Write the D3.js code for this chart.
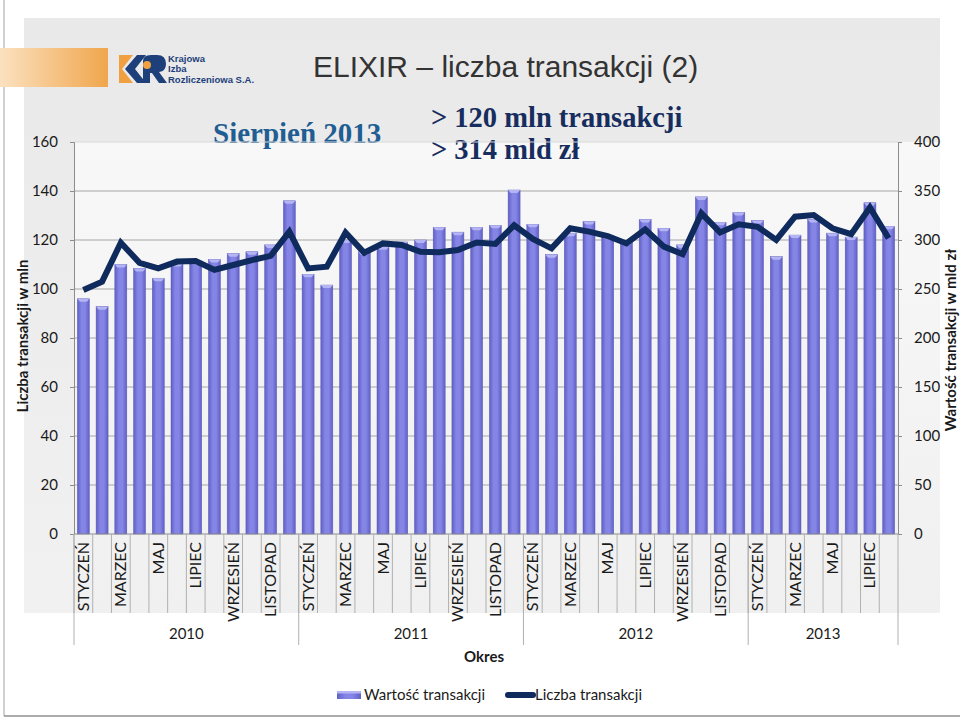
<!DOCTYPE html>
<html>
<head>
<meta charset="utf-8">
<script src="https://cdn.jsdelivr.net/npm/d3@7"></script>
<style>
  body{margin:0;background:#fff;}
  svg{display:block;}
</style>
</head>
<body>
<script>
  // data, Jan 2010 .. Aug 2013
  const years = ["2010","2011","2012","2013"]
  const monthNames = ["STYCZEŃ","LUTY","MARZEC","KWIECIEŃ","MAJ","CZERWIEC","LIPIEC","SIERPIEŃ","WRZESIEŃ","PAŹDZIERNIK","LISTOPAD","GRUDZIEŃ"]
  const monthsInYear = [12,12,12,8]
  // Wartość transakcji, mld zł (right axis)
  const wartosc = [240,232,275,271,261,276,278,280,286,288,295,340,
                   265,254,300,288,293,298,300,313,308,313,315,351,
                   316,285,307,319,304,298,321,312,295,344,318,328,
                   320,283,305,321,307,303,338,314]
  // Liczba transakcji, mln (left axis)
  const liczba = [99.6,103,118.9,110.7,108.4,111.2,111.4,107.8,109.8,111.8,113.5,123.4,
                  108.4,109.1,123,114.8,118.6,118,115.2,115,115.9,119,118.4,126,
                  120.4,116.6,124.8,123.4,121.6,118.6,124.3,117.3,114.2,130.9,123.1,126.4,
                  125.4,120,129.5,130.2,124.8,122.4,133.3,120.7]
  const leftTicks = [0,20,40,60,80,100,120,140,160]
  const rightTicks = [0,50,100,150,200,250,300,350,400]

  let rows=[]
  years.forEach((y,yi)=>{
    for(let m=0;m<monthsInYear[yi];m++){
      rows.push({id:`${y}_${m}`,year:y,month:m,label:m%2===0?monthNames[m]:""})
    }
  })
  rows.forEach((r,i)=>{r.value=wartosc[i];r.count=liczba[i]})

  const W=960,H=718
  const pLeft=74,pRight=898,pTop=142,pBottom=534
  const uiFont="Lato,'Open Sans','Noto Sans',sans-serif"
  const serif="'Liberation Serif','DejaVu Serif',serif"

  const svg=d3.select("body").append("svg").attr("width",W).attr("height",H).attr("font-family",uiFont)
  const defs=svg.append("defs")

  let g1=defs.append("linearGradient").attr("id","bg").attr("x1",0).attr("y1",0).attr("x2",0).attr("y2",1)
  g1.append("stop").attr("offset","0%").attr("stop-color","#e9e9e9")
  g1.append("stop").attr("offset","100%").attr("stop-color","#f1f1f1")
  let g2=defs.append("linearGradient").attr("id","plotbg").attr("x1",0).attr("y1",0).attr("x2",0).attr("y2",1)
  g2.append("stop").attr("offset","0%").attr("stop-color","#f8f8f8")
  g2.append("stop").attr("offset","100%").attr("stop-color","#f0f0f0")
  let g3=defs.append("linearGradient").attr("id","bar").attr("x1",0).attr("y1",0).attr("x2",1).attr("y2",0)
  g3.append("stop").attr("offset","0%").attr("stop-color","#5f5fc6")
  g3.append("stop").attr("offset","35%").attr("stop-color","#8585e6")
  g3.append("stop").attr("offset","65%").attr("stop-color","#8585e6")
  g3.append("stop").attr("offset","100%").attr("stop-color","#5f5fc6")
  let g4=defs.append("linearGradient").attr("id","band").attr("x1",0).attr("y1",0).attr("x2",1).attr("y2",0)
  g4.append("stop").attr("offset","0%").attr("stop-color","#fbe1c0")
  g4.append("stop").attr("offset","100%").attr("stop-color","#f0a64c")

  // slide background
  svg.append("rect").attr("x",24).attr("y",18).attr("width",916).attr("height",595).attr("fill","url(#bg)")
  svg.append("rect").attr("x",pLeft).attr("y",pTop).attr("width",940-pLeft).attr("height",613-pTop).attr("fill","url(#plotbg)")
  svg.append("line").attr("x1",4).attr("x2",4).attr("y1",0).attr("y2",716).attr("stroke","#a0a0a0")
  svg.append("line").attr("x1",4).attr("x2",W).attr("y1",716).attr("y2",716).attr("stroke","#909090").attr("stroke-width",1.5)

  // logo
  svg.append("rect").attr("x",0).attr("y",48).attr("width",108).attr("height",39).attr("fill","url(#band)")
  const logo=svg.append("g").attr("transform","translate(119,55)")
  logo.append("polygon").attr("points","0,0 14,0 3,14 14,28 0,28").attr("fill","#f0a040")
  logo.append("polygon").attr("points","6,14 18,0 27,0 16,14 27,28 18,28").attr("fill","#1d3f7a")
  logo.append("path").attr("d","M24,28 L24,6 Q24,0 32,0 L38,0 Q47,0 47,9 Q47,16 40,17 L48,28 L40,28 L33,18 L31,18 L31,28 Z").attr("fill","#1d3f7a")
  logo.append("circle").attr("cx",28).attr("cy",10).attr("r",4).attr("fill","#f0a040")
  const lt=svg.append("g").attr("fill","#1d3f7a").attr("font-family","'Liberation Sans',Arial,sans-serif").attr("font-weight","bold").attr("font-size",9.5)
  lt.append("text").attr("x",168).attr("y",62).text("Krajowa")
  lt.append("text").attr("x",168).attr("y",72).text("Izba")
  lt.append("text").attr("x",168).attr("y",83).text("Rozliczeniowa S.A.")

  svg.append("text").attr("x",313).attr("y",77).attr("font-family","'Liberation Sans',Arial,sans-serif")
    .attr("font-size",30).attr("fill","#333").text("ELIXIR – liczba transakcji (2)")
  svg.append("text").attr("x",213).attr("y",143).attr("font-family",serif)
    .attr("font-weight","bold").attr("font-size",29).attr("fill","#1f5d92").text("Sierpień 2013")
  const sub=svg.append("g").attr("font-family",serif).attr("font-weight","bold")
    .attr("font-size",28.5).attr("fill","#172d5e")
  sub.append("text").attr("x",431).attr("y",127).text("> 120 mln transakcji")
  sub.append("text").attr("x",431).attr("y",159).text("> 314 mld zł")

  // scales
  const x=d3.scaleBand().domain(rows.map(d=>d.id)).range([pLeft,pRight]).paddingInner(0.36).paddingOuter(0.18)
  const step=x.step()
  const yL=d3.scaleLinear().domain([0,160]).range([pBottom,pTop])
  const yR=d3.scaleLinear().domain([0,400]).range([pBottom,pTop])

  // gridlines
  svg.append("g").selectAll("line").data(leftTicks.slice(1)).join("line")
    .attr("x1",pLeft).attr("x2",pRight).attr("y1",d=>yL(d)).attr("y2",d=>yL(d))
    .attr("stroke",d=>d===160?"#d8d8d8":"#a6a6a6").attr("stroke-width",1)

  // bars
  const bars=svg.append("g").selectAll("g").data(rows,d=>d.id).join("g")
  bars.append("rect").attr("x",d=>x(d.id)).attr("width",x.bandwidth())
    .attr("y",d=>yR(d.value)).attr("height",d=>pBottom-yR(d.value)).attr("fill","url(#bar)")
    .attr("stroke","#5a5ab8").attr("stroke-width",0.5)
  bars.append("polygon").attr("points",d=>{
      let x0=x(d.id),w=x.bandwidth(),y0=yR(d.value)
      return `${x0},${y0} ${x0+w},${y0} ${x0+w-2.5},${y0+3} ${x0+2.5},${y0+3}`
    }).attr("fill","#b4b4f4")

  // line
  const line=d3.line().x(d=>x(d.id)+x.bandwidth()/2).y(d=>yL(d.count))
  svg.append("path").datum(rows).attr("d",line).attr("fill","none")
    .attr("stroke","#0f2a5c").attr("stroke-width",6).attr("stroke-linejoin","miter")

  // axes
  const axL=svg.append("g").attr("transform",`translate(${pLeft},0)`).call(d3.axisLeft(yL).tickValues(leftTicks).tickSize(4).tickPadding(12))
  const axR=svg.append("g").attr("transform",`translate(${pRight},0)`).call(d3.axisRight(yR).tickValues(rightTicks).tickSize(4).tickPadding(12))
  ;[axL,axR].forEach(a=>{
    a.select(".domain").attr("stroke","#8c8c8c")
    a.selectAll(".tick line").attr("stroke","#8c8c8c")
    a.selectAll("text").attr("font-size",15).attr("fill","#1a1a1a").attr("font-family",uiFont)
  })
  svg.append("line").attr("x1",pLeft).attr("x2",pRight).attr("y1",pBottom).attr("y2",pBottom).attr("stroke","#8c8c8c")

  // category axis: month separators, labels, year row
  const cat=svg.append("g")
  cat.selectAll("line.m").data(rows).join("line").attr("class","m")
    .attr("x1",d=>x(d.id)-step*0.18).attr("x2",d=>x(d.id)-step*0.18)
    .attr("y1",pBottom).attr("y2",613).attr("stroke","#b0b0b0")
  cat.selectAll("text.m").data(rows.filter(d=>d.label)).join("text").attr("class","m")
    .attr("transform",d=>`translate(${x(d.id)+x.bandwidth()/2+5.5},${pBottom+8}) rotate(-90)`)
    .attr("text-anchor","end").attr("font-size",16).attr("fill","#1a1a1a").text(d=>d.label)
  let start=0
  const yearPos=years.map((y,i)=>{let s=start;start+=monthsInYear[i];return {year:y,s:s,e:start}})
  const edge=i=>pLeft+i*step
  cat.selectAll("line.y").data([0,...yearPos.map(d=>d.e)]).join("line").attr("class","y")
    .attr("x1",d=>edge(d)).attr("x2",d=>edge(d)).attr("y1",pBottom).attr("y2",645).attr("stroke","#b0b0b0")
  cat.selectAll("text.y").data(yearPos).join("text").attr("class","y")
    .attr("x",d=>(edge(d.s)+edge(d.e))/2).attr("y",639).attr("text-anchor","middle")
    .attr("font-size",15).attr("fill","#1a1a1a").text(d=>d.year)

  // axis titles
  svg.append("text").attr("x",484).attr("y",662).attr("text-anchor","middle").attr("font-weight","bold")
    .attr("font-size",15).attr("fill","#1a1a1a").text("Okres")
  svg.append("text").attr("transform","translate(28,336) rotate(-90)").attr("text-anchor","middle")
    .attr("font-weight","bold").attr("font-size",15).attr("fill","#1a1a1a").text("Liczba transakcji w mln")
  svg.append("text").attr("transform","translate(956,340) rotate(-90)").attr("text-anchor","middle")
    .attr("font-weight","bold").attr("font-size",15).attr("fill","#1a1a1a").text("Wartość  transakcji w mld zł")

  // legend
  const leg=svg.append("g")
  leg.append("rect").attr("x",337).attr("y",691).attr("width",24).attr("height",8).attr("fill","url(#bar)")
  leg.append("rect").attr("x",337).attr("y",691).attr("width",24).attr("height",2.5).attr("fill","#b4b4f4")
  leg.append("text").attr("x",364).attr("y",700).attr("font-size",15).attr("fill","#1a1a1a").text("Wartość transakcji")
  leg.append("line").attr("x1",508).attr("x2",533).attr("y1",695).attr("y2",695)
    .attr("stroke","#0f2a5c").attr("stroke-width",6).attr("stroke-linecap","round")
  leg.append("text").attr("x",535).attr("y",700).attr("font-size",15).attr("fill","#1a1a1a").text("Liczba transakcji")
</script>
</body>
</html>
